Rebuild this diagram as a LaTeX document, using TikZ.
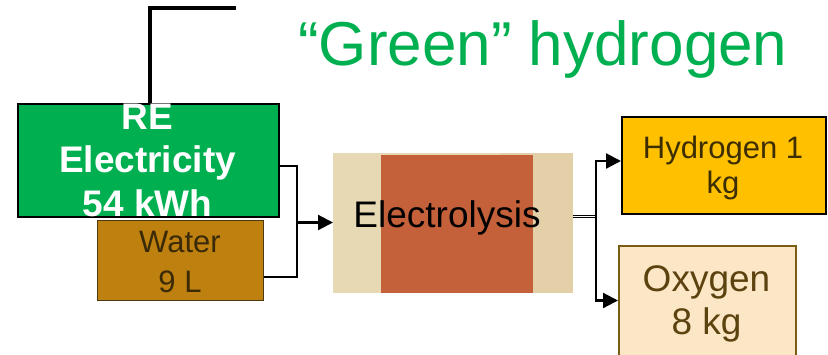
\documentclass[tikz,border=0pt]{standalone}
\usepackage{fontspec}
\setmainfont{Liberation Sans}
\usetikzlibrary{arrows.meta}
\definecolor{regreen}{HTML}{00B050}
\definecolor{waterfill}{HTML}{BE800E}
\definecolor{watertext}{HTML}{3A2A08}
\definecolor{waterline}{HTML}{4D3A10}
\definecolor{hfill}{HTML}{FFC000}
\definecolor{htext}{HTML}{3C2E00}
\definecolor{ofill}{HTML}{FBE7C6}
\definecolor{otext}{HTML}{5C420F}
\definecolor{oline}{HTML}{7A5C14}
\definecolor{beigeL}{HTML}{E8D9B5}
\definecolor{beigeR}{HTML}{E3CFA8}
\definecolor{elecred}{HTML}{C4603A}
\begin{document}
\begin{tikzpicture}[x=1pt,y=-1pt,
  box/.style={rectangle,inner sep=0pt,anchor=north west},
  txt/.style={inner sep=0pt,align=center},
  conn/.style={line width=2.2pt},
  tip/.style={-{Triangle[length=15pt,width=15pt]}}]
\useasboundingbox (0,0) rectangle (828,354);
\clip (0,0) rectangle (828,354);
\fill[white] (0,0) rectangle (828,354);
% title
\node[inner sep=0pt,anchor=base west,text=regreen,font=\fontsize{62}{70}\selectfont] (title) at (298,65) {“Green” hydrogen};
% RE box
\node[box,draw=black,line width=1.5pt,fill=regreen,minimum width=261pt,minimum height=113pt] (re) at (17,103) {};
\coordinate (topend) at (235.7,7.7);
\draw[line width=4pt] (topend) -| ([xshift=1.8pt]re.north);
\node[txt,text=white,font=\bfseries\fontsize{37}{43.5}\selectfont] (retext) at (147.5,160) {RE\\Electricity\\54 kWh};
% Water box
\node[box,draw=waterline,line width=1.2pt,fill=waterfill,minimum width=166pt,minimum height=80pt] (water) at (97,220) {};
\node[txt,text=watertext,font=\fontsize{31}{40}\selectfont] (watertext) at (180,262) {Water\\9 L};
% Electrolysis
\node[box,fill=beigeL,minimum width=240pt,minimum height=140pt] (elec) at (333,153) {};
\node[box,fill=beigeR,minimum width=73.5pt,minimum height=140pt] (elecR) at (499.3,153) {};
\node[box,fill=elecred,minimum width=151.7pt,minimum height=137.7pt] (elecM) at (381,155) {};
\node[txt,text=black,font=\fontsize{37}{43}\selectfont] (electext) at (447,218.4) {Electrolysis};
% Hydrogen
\node[box,draw=black,line width=2pt,fill=hfill,minimum width=204pt,minimum height=97pt] (hyd) at (621,116) {};
\node[txt,text=htext,font=\fontsize{31}{35}\selectfont] (hydtext) at (723,168) {Hydrogen 1\\kg};
% Oxygen
\node[box,draw=oline,line width=1.5pt,fill=ofill,minimum width=177pt,minimum height=130pt] (oxy) at (618,245) {};
\node[txt,text=otext,font=\fontsize{37}{43}\selectfont] (oxytext) at (706.5,304) {Oxygen\\8 kg};
% input connectors
\coordinate (join) at (297,222.5);
\draw[conn] (re.east |- 0,166) -| (join) |- (water.east |- 0,276.7);
\draw[conn,tip] (join) -- (elec.west |- join);
% output connectors
\coordinate (split) at (596,216.5);
\draw[line width=1pt,double,double distance=1.5pt] (elec.east |- split) -- (split);
\draw[conn,tip] (split) |- (hyd.west |- 0,161);
\draw[conn,tip] (split) |- (oxy.west |- 0,300.5);
\end{tikzpicture}
\end{document}
